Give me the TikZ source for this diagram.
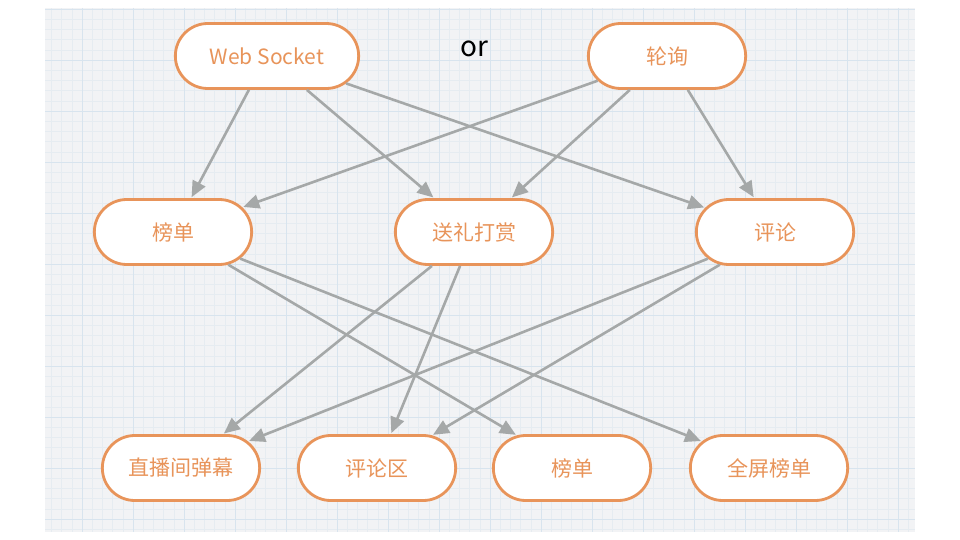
\documentclass[tikz,border=0pt]{standalone}
\usepackage{fontspec}
\setmainfont{Noto Sans CJK SC}
\usetikzlibrary{arrows.meta,shapes.misc}
\definecolor{boxorange}{HTML}{E8945A}
\definecolor{linkgray}{HTML}{A5A8A8}
\definecolor{paper}{HTML}{F2F3F5}
\definecolor{minorgrid}{HTML}{E6ECF1}
\definecolor{majorgrid}{HTML}{D8E4EE}
\tikzset{
    box/.style={rounded rectangle, draw=boxorange, line width=2.8pt, fill=white,
        text=boxorange, minimum width=164pt, minimum height=65pt,
        font=\fontsize{21}{25}\selectfont},
    link/.style={draw=linkgray, line width=2.6pt, -{Triangle[length=16pt,width=14pt]}, shorten >=1pt}
}
\begin{document}
\begin{tikzpicture}[x=1pt,y=-1pt]
    \useasboundingbox (0,0) rectangle (960,540);
    % squared paper
    \fill[paper] (45,8) rectangle (915,532);
    \begin{scope}
        \clip (45,8) rectangle (915,532);
        \foreach \i in {0,...,87} {
            \draw[minorgrid, line width=0.5pt] ({31+10.2*\i},8) -- ({31+10.2*\i},532);
        }
        \foreach \j in {0,...,51} {
            \draw[minorgrid, line width=0.5pt] (45,{9+10.2*\j}) -- (915,{9+10.2*\j});
        }
        \foreach \i in {0,...,17} {
            \draw[majorgrid, line width=0.8pt] ({31+51*\i},8) -- ({31+51*\i},532);
        }
        \foreach \j in {0,...,10} {
            \draw[majorgrid, line width=0.8pt] (45,{9+51*\j}) -- (915,{9+51*\j});
        }
    \end{scope}

    \node[box, minimum width=190pt] (ws) at (267,56) {Web Socket};
    \node[box] (poll) at (667,56) {轮询};
    \node[font=\fontsize{28}{32}\selectfont] (or) at (474,49) {or};

    \node[box] (rank) at (173,232) {榜单};
    \node[box] (gift) at (474,232) {送礼打赏};
    \node[box] (cmt) at (775,232) {评论};

    \node[box] (danmu) at (181,468) {直播间弹幕};
    \node[box] (cmtarea) at (377,468) {评论区};
    \node[box] (rankb) at (572,468) {榜单};
    \node[box] (fullrank) at (769,468) {全屏榜单};

    \foreach \a/\b in {ws/rank, ws/gift, ws/cmt, poll/rank, poll/gift, poll/cmt,
        rank/rankb, rank/fullrank, gift/danmu, gift/cmtarea, cmt/danmu, cmt/cmtarea} {
        \draw[link] (\a) -- (\b);
    }
\end{tikzpicture}
\end{document}
